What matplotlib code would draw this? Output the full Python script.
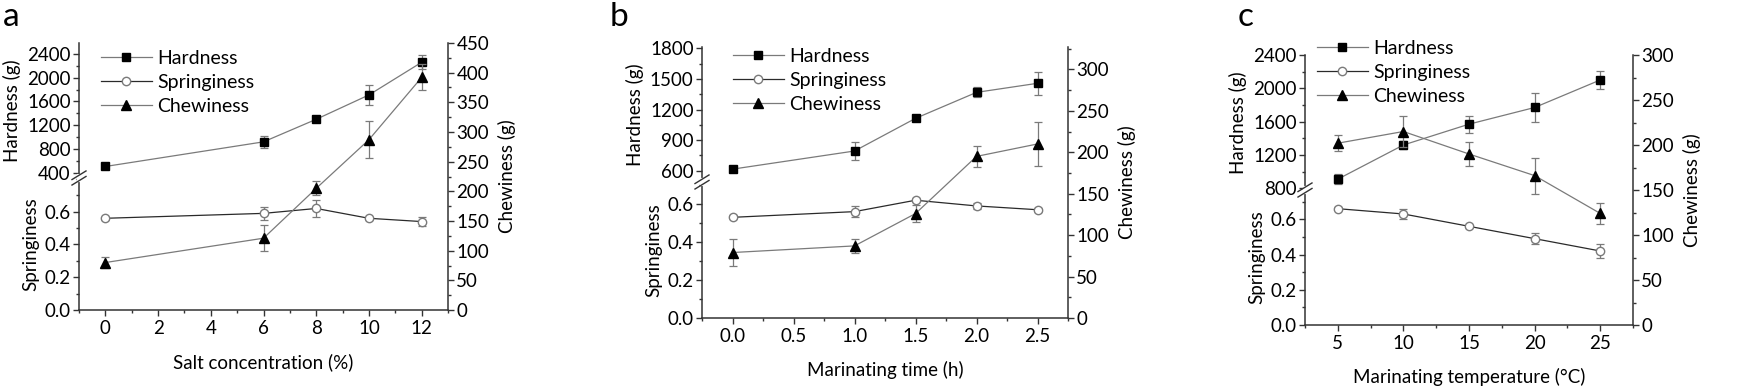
import numpy as np
import matplotlib.pyplot as plt
from matplotlib.ticker import MultipleLocator
from matplotlib.lines import Line2D

plt.rcParams['font.family'] = ['Lato', 'DejaVu Sans']
plt.rcParams['font.size'] = 13.5

# panel a - salt concentration
salt = [0, 6, 8, 10, 12]
hard_a = [505, 920, 1300, 1710, 2260]
hard_a_err = [35, 100, 45, 170, 115]
spr_a = [0.56, 0.59, 0.62, 0.56, 0.54]
spr_a_err = [0.01, 0.04, 0.05, 0.01, 0.03]
chew_a = [80, 121, 205, 287, 392]
chew_a_err = [10, 22, 12, 31, 22]

# panel b - marinating time
mtime = [0.0, 1.0, 1.5, 2.0, 2.5]
hard_b = [615, 793, 1113, 1368, 1457]
hard_b_err = [25, 90, 30, 50, 115]
spr_b = [0.53, 0.56, 0.62, 0.59, 0.57]
spr_b_err = [0.01, 0.03, 0.01, 0.015, 0.01]
chew_b = [79, 87, 126, 195, 210]
chew_b_err = [16, 8, 10, 13, 27]

# panel c - marinating temperature
mtemp = [5, 10, 15, 20, 25]
hard_c = [910, 1320, 1570, 1770, 2100]
hard_c_err = [60, 50, 100, 170, 110]
spr_c = [0.66, 0.63, 0.56, 0.49, 0.42]
spr_c_err = [0.01, 0.03, 0.01, 0.03, 0.04]
chew_c = [202, 215, 190, 166, 124]
chew_c_err = [9, 17, 13, 20, 12]

W, H = 1750, 391
fig = plt.figure(figsize=(W / 100, H / 100), dpi=100)

GREY = '#7a7a7a'
DARK = '#2a2a2a'


def fx(px):
    return px / W


def fy(py):
    return 1 - py / H


def panel(letter, box, x, hard, hard_err, spr, spr_err, chew, chew_err,
          xlim, xmaj, xmin, xlabel, hlim, hmaj, hmin, slim, clim, leg_xy, letter_x):
    left, right, top, brk, bottom = box
    axl = fig.add_axes([fx(left), fy(bottom), fx(right - left), (bottom - brk) / H])
    axu = fig.add_axes([fx(left), fy(brk), fx(right - left), (brk - top) / H], sharex=axl)
    axc = fig.add_axes([fx(left), fy(bottom), fx(right - left), (bottom - top) / H], sharex=axl)
    axc.patch.set_visible(False)

    eb = dict(capsize=3, elinewidth=0.9, capthick=0.9, ecolor=GREY, lw=0.9)
    axu.errorbar(x, hard, yerr=hard_err, color=GREY, marker='s', ms=5.5,
                 mfc='black', mec='black', **eb)
    axl.errorbar(x, spr, yerr=spr_err, color=DARK, marker='o', ms=6,
                 mfc='white', mec=GREY, **eb)
    axc.errorbar(x, chew, yerr=chew_err, color=GREY, marker='^', ms=7,
                 mfc='black', mec='black', **eb)

    axl.set_xlim(*xlim)
    axl.xaxis.set_major_locator(MultipleLocator(xmaj))
    axl.xaxis.set_minor_locator(MultipleLocator(xmin))
    axl.set_ylim(*slim)
    axl.set_yticks([t for t in np.arange(0, 1.0, 0.2) if t < slim[1] - 0.02])
    axl.yaxis.set_minor_locator(MultipleLocator(0.1))
    axu.set_ylim(*hlim)
    axu.yaxis.set_major_locator(MultipleLocator(hmaj))
    axu.yaxis.set_minor_locator(MultipleLocator(hmin))
    axc.set_ylim(*clim)
    axc.yaxis.set_major_locator(MultipleLocator(50))
    axc.yaxis.set_minor_locator(MultipleLocator(25))

    for a in (axl, axu, axc):
        for s in a.spines.values():
            s.set_visible(False)
            s.set_linewidth(1.1)
            s.set_color('#333333')
        a.tick_params(which='both', direction='out', width=1, color='#333333')
        a.tick_params(which='major', length=4)
        a.tick_params(which='minor', length=2.5)
    axl.spines['left'].set_visible(True)
    axl.spines['bottom'].set_visible(True)
    axu.spines['left'].set_visible(True)
    axc.spines['right'].set_visible(True)

    axu.tick_params(axis='x', which='both', bottom=False, labelbottom=False)
    axc.tick_params(axis='x', which='both', bottom=False, labelbottom=False)
    axc.yaxis.tick_right()
    axc.tick_params(axis='y', which='both', left=False, labelleft=False)
    axl.tick_params(axis='x', pad=3)
    axu.tick_params(axis='y', pad=2)
    axl.tick_params(axis='y', pad=2)
    axc.tick_params(axis='y', pad=2)

    axl.set_xlabel(xlabel, labelpad=12)
    axu.set_ylabel('Hardness (g)', labelpad=4)
    axl.set_ylabel('Springiness', labelpad=4)
    axc.set_ylabel('Chewiness (g)', labelpad=6)
    axc.yaxis.set_label_position('right')

    # break marks on left spine
    bx, by = fx(left), fy(brk)
    fig.add_artist(Line2D([bx, bx], [by - 0.006, by + 0.006], color='white', lw=3))
    for d in (-0.007, 0.007):
        fig.add_artist(Line2D([bx - 0.004, bx + 0.004],
                              [by + d - 0.011, by + d + 0.011],
                              color='#333333', lw=1))

    handles = [
        Line2D([], [], color=GREY, lw=0.9, marker='s', ms=5.5, mfc='black', mec='black'),
        Line2D([], [], color=DARK, lw=0.9, marker='o', ms=6, mfc='white', mec=GREY),
        Line2D([], [], color=GREY, lw=0.9, marker='^', ms=7, mfc='black', mec='black'),
    ]
    axu.legend(handles, ['Hardness', 'Springiness', 'Chewiness'],
               loc='upper left', bbox_to_anchor=(fx(leg_xy[0]), fy(leg_xy[1])),
               bbox_transform=fig.transFigure, frameon=False,
               handlelength=2.6, handletextpad=0.3, labelspacing=0.35,
               borderaxespad=0, borderpad=0, fontsize=14)

    fig.text(fx(letter_x), 0.995, letter, fontsize=24, va='top', ha='left')


panel('a', (79, 448, 43, 178, 310), salt, hard_a, hard_a_err, spr_a, spr_a_err,
      chew_a, chew_a_err, (-1, 13), 2, 1, 'Salt concentration (%)',
      (311, 2585), 400, 200, (0, 0.806), (0, 450), (101, 50), 3)

panel('b', (702, 1068, 47, 182, 318), mtime, hard_b, hard_b_err, spr_b, spr_b_err,
      chew_b, chew_b_err, (-0.25, 2.75), 0.5, 0.25, 'Marinating time (h)',
      (489, 1813), 300, 150, (0, 0.716), (0, 327), (733, 48), 610)

panel('c', (1305, 1633, 55, 190, 325), mtemp, hard_c, hard_c_err, spr_c, spr_c_err,
      chew_c, chew_c_err, (2.5, 27.5), 5, 2.5, 'Marinating temperature (°C)',
      (780, 2400), 400, 200, (0, 0.766), (0, 300), (1317, 40), 1238)

fig.savefig('out.png', dpi=100)
